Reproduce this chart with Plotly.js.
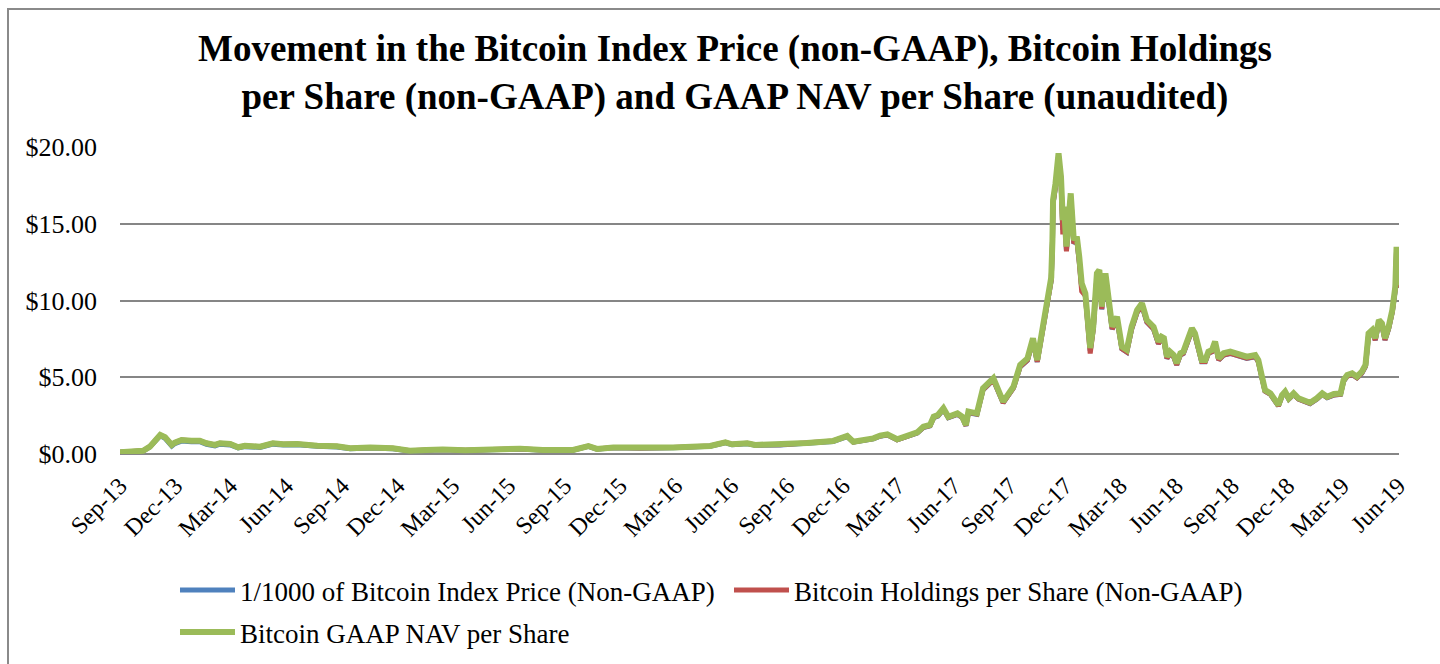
<!DOCTYPE html>
<html>
<head>
<meta charset="utf-8">
<script src="https://cdn.plot.ly/plotly-3.0.1.min.js"></script>
<style>
  html, body { margin: 0; padding: 0; background: #fff; }
  #wrap { position: relative; width: 1440px; height: 664px; overflow: hidden; }
  #chart { position: absolute; left: 0; top: 0; width: 1440px; height: 664px; }
  #frame { position: absolute; left: 7px; top: 8px; width: 1460px; height: 700px;
           border-left: 2px solid #8a8a8a; border-top: 2px solid #8a8a8a; pointer-events: none; }
</style>
</head>
<body>
<div id="wrap"><div id="chart"></div><div id="frame"></div></div>
<script>
// ---- data ----
const dates = [
'2013-09-25','2013-10-15','2013-11-02','2013-11-13','2013-11-22','2013-11-30','2013-12-08','2013-12-19','2013-12-24','2014-01-04',
'2014-01-20','2014-02-03','2014-02-14','2014-02-28','2014-03-08','2014-03-25','2014-04-07','2014-04-18','2014-05-13','2014-06-03',
'2014-06-20','2014-07-13','2014-08-15','2014-09-16','2014-10-08','2014-11-10','2014-12-17','2015-01-14','2015-02-10','2015-03-09',
'2015-04-15','2015-05-31','2015-07-14','2015-08-20','2015-09-13','2015-10-09','2015-11-03','2015-11-17','2015-12-14','2016-01-27',
'2016-03-21','2016-05-21','2016-06-15','2016-06-26','2016-07-21','2016-08-03','2016-09-13','2016-10-27','2016-12-09','2017-01-01',
'2017-01-11','2017-01-27','2017-02-13','2017-02-24','2017-03-08','2017-03-24','2017-04-09','2017-04-26','2017-05-06','2017-05-17',
'2017-05-23','2017-05-30','2017-06-08','2017-06-16','2017-07-01','2017-07-09','2017-07-15','2017-07-19','2017-08-02','2017-08-12',
'2017-08-29','2017-09-14','2017-10-01','2017-10-12','2017-10-24','2017-11-02','2017-11-09','2017-11-19','2017-11-27','2017-12-02',
'2017-12-04','2017-12-05','2017-12-09','2017-12-14','2017-12-18','2017-12-21','2017-12-23','2017-12-27','2017-12-30','2018-01-03',
'2018-01-08','2018-01-13','2018-01-17','2018-01-21','2018-01-27','2018-02-01','2018-02-04','2018-02-09','2018-02-15','2018-02-19',
'2018-02-23','2018-03-01','2018-03-06','2018-03-12','2018-03-20','2018-03-28','2018-04-05','2018-04-13','2018-04-22','2018-04-30',
'2018-05-08','2018-05-19','2018-05-27','2018-06-01','2018-06-05','2018-06-10','2018-06-15','2018-06-21','2018-06-26','2018-07-02',
'2018-07-07','2018-07-13','2018-07-21','2018-07-26','2018-08-01','2018-08-06','2018-08-12','2018-08-17','2018-08-23','2018-08-28',
'2018-09-03','2018-09-11','2018-09-22','2018-10-08','2018-10-19','2018-11-02','2018-11-07','2018-11-13','2018-11-18','2018-11-27',
'2018-12-05','2018-12-10','2018-12-16','2018-12-21','2018-12-27','2019-01-04','2019-01-12','2019-01-20','2019-01-31','2019-02-11',
'2019-02-20','2019-02-28','2019-03-11','2019-03-22','2019-03-27','2019-04-02','2019-04-10','2019-04-18','2019-04-26','2019-05-02',
'2019-05-07','2019-05-13','2019-05-18','2019-05-24','2019-05-29','2019-06-03','2019-06-09','2019-06-15','2019-06-20','2019-06-22',
'2019-06-24','2019-06-26'
];

// 1/1000 of Bitcoin Index Price (Non-GAAP)
const indexPrice = [
0.11,0.14,0.20,0.45,0.80,1.18,1.02,0.52,0.68,0.84,
0.80,0.81,0.63,0.53,0.64,0.59,0.39,0.48,0.43,0.64,
0.58,0.60,0.50,0.46,0.34,0.39,0.34,0.19,0.24,0.28,
0.23,0.26,0.33,0.25,0.24,0.24,0.50,0.31,0.41,0.37,
0.41,0.50,0.73,0.61,0.67,0.57,0.59,0.70,0.82,1.13,
0.77,0.88,0.99,1.16,1.24,0.92,1.13,1.37,1.72,1.83,
2.36,2.47,2.90,2.36,2.58,2.37,1.84,2.69,2.58,4.17,
4.82,3.33,4.30,5.68,6.10,7.40,6.00,8.14,10.28,11.30,
13.70,16.30,17.40,19.40,17.85,14.60,15.90,13.25,14.80,16.75,
13.70,13.95,12.55,10.85,10.30,8.10,6.72,8.12,11.55,11.80,
9.42,11.58,9.85,8.13,8.78,6.85,6.64,8.13,9.22,9.66,
8.58,8.14,7.18,7.50,7.41,6.22,6.55,6.33,5.80,6.44,
6.55,7.30,8.05,7.72,6.86,6.01,6.01,6.55,6.66,7.19,
6.12,6.44,6.55,6.33,6.23,6.34,6.01,4.95,4.09,3.88,
3.35,3.13,3.77,3.99,3.57,3.88,3.57,3.46,3.28,3.57,
3.88,3.67,3.84,3.88,4.74,5.07,5.17,4.96,5.27,5.70,
7.73,7.95,7.41,8.59,8.37,7.42,8.16,9.24,10.72,13.30,
10.82,11.82
];

// Bitcoin Holdings per Share (Non-GAAP)
const holdingsPerShare = [
0.11,0.14,0.21,0.48,0.85,1.24,1.09,0.59,0.74,0.91,
0.86,0.87,0.70,0.59,0.70,0.65,0.44,0.54,0.48,0.70,
0.63,0.65,0.54,0.50,0.37,0.42,0.37,0.21,0.26,0.30,
0.25,0.28,0.35,0.26,0.26,0.26,0.52,0.33,0.43,0.39,
0.43,0.52,0.76,0.63,0.70,0.59,0.61,0.72,0.85,1.17,
0.78,0.89,1.00,1.17,1.25,0.93,1.14,1.38,1.74,1.85,
2.38,2.49,2.92,2.38,2.60,2.38,1.85,2.71,2.60,4.19,
4.84,3.34,4.31,5.70,6.12,7.42,6.01,8.16,10.30,11.32,
13.72,16.32,17.42,19.42,17.88,14.30,15.92,13.20,14.82,16.78,
13.72,13.97,12.50,10.60,10.31,8.05,6.55,8.13,11.57,11.82,
9.44,11.60,9.87,8.14,8.80,6.86,6.65,8.14,9.24,9.68,
8.60,8.15,7.19,7.51,7.42,6.23,6.56,6.34,5.81,6.45,
6.56,7.31,8.06,7.73,6.87,6.02,6.02,6.56,6.67,7.20,
6.13,6.45,6.56,6.34,6.24,6.35,6.02,4.96,4.10,3.89,
3.36,3.14,3.78,4.00,3.58,3.89,3.58,3.47,3.29,3.58,
3.89,3.68,3.85,3.89,4.75,5.08,5.18,4.97,5.28,5.71,
7.74,7.96,7.42,8.60,8.38,7.43,8.17,9.25,10.74,13.32,
10.84,11.84
];

// Bitcoin GAAP NAV per Share
const gaapNav = [
0.11,0.14,0.21,0.48,0.85,1.24,1.09,0.59,0.74,0.91,
0.86,0.87,0.70,0.59,0.70,0.65,0.44,0.54,0.48,0.70,
0.63,0.65,0.54,0.50,0.37,0.42,0.37,0.21,0.26,0.30,
0.25,0.28,0.35,0.26,0.26,0.26,0.52,0.33,0.43,0.39,
0.43,0.52,0.76,0.63,0.70,0.59,0.61,0.72,0.85,1.17,
0.80,0.91,1.02,1.20,1.28,0.96,1.17,1.41,1.78,1.89,
2.43,2.54,2.98,2.43,2.65,2.43,1.89,2.76,2.65,4.28,
4.93,3.41,4.39,5.80,6.23,7.54,6.12,8.29,10.47,11.50,
13.94,16.55,17.63,19.59,18.07,15.24,16.11,13.51,15.03,16.98,
13.94,14.16,12.85,11.12,10.47,8.29,6.90,8.29,11.77,11.99,
9.60,11.77,10.03,8.29,8.94,6.99,6.78,8.29,9.38,9.82,
8.73,8.29,7.32,7.64,7.55,6.34,6.67,6.45,5.91,6.56,
6.67,7.43,8.19,7.86,6.99,6.12,6.12,6.67,6.78,7.32,
6.23,6.56,6.67,6.45,6.34,6.45,6.12,5.04,4.17,3.95,
3.41,3.19,3.84,4.06,3.63,3.95,3.63,3.52,3.34,3.63,
3.95,3.73,3.91,3.95,4.82,5.15,5.26,5.04,5.36,5.80,
7.86,8.08,7.54,8.73,8.51,7.54,8.29,9.38,10.90,13.50,
11.00,12.00
];

const tickDates = [
'2013-09-25','2013-12-25','2014-03-25','2014-06-25','2014-09-25','2014-12-25',
'2015-03-25','2015-06-25','2015-09-25','2015-12-25','2016-03-25','2016-06-25',
'2016-09-25','2016-12-25','2017-03-25','2017-06-25','2017-09-25','2017-12-25',
'2018-03-25','2018-06-25','2018-09-25','2018-12-25','2019-03-25','2019-06-25'
];
const tickLabels = [
'Sep-13','Dec-13','Mar-14','Jun-14','Sep-14','Dec-14',
'Mar-15','Jun-15','Sep-15','Dec-15','Mar-16','Jun-16',
'Sep-16','Dec-16','Mar-17','Jun-17','Sep-17','Dec-17',
'Mar-18','Jun-18','Sep-18','Dec-18','Mar-19','Jun-19'
];
const seriesNames = [
'1/1000 of Bitcoin Index Price (Non-GAAP)',
'Bitcoin Holdings per Share (Non-GAAP)',
'Bitcoin GAAP NAV per Share'
];
const titleText = '<b>Movement in the Bitcoin Index Price (non-GAAP), Bitcoin Holdings</b><br><b>per Share (non-GAAP) and GAAP NAV per Share (unaudited)</b>';

// ---- chart ----
const SERIF = 'Liberation Serif';
const traces = [
  {x: dates, y: indexPrice, name: seriesNames[0], type: 'scatter', mode: 'lines',
   line: {color: '#4F81BD', width: 5}, legend: 'legend'},
  {x: dates, y: holdingsPerShare, name: seriesNames[1], type: 'scatter', mode: 'lines',
   line: {color: '#C0504D', width: 5}, legend: 'legend'},
  {x: dates, y: gaapNav, name: seriesNames[2], type: 'scatter', mode: 'lines',
   line: {color: '#9BBB59', width: 6}, legend: 'legend2'}
];

const layout = {
  width: 1440, height: 664,
  paper_bgcolor: '#ffffff', plot_bgcolor: '#ffffff',
  margin: {l: 120, r: 41, t: 147, b: 210, pad: 0, autoexpand: false},
  font: {family: SERIF, color: '#000000'},
  title: {
    text: titleText,
    font: {family: SERIF, size: 37, color: '#000000'},
    xref: 'container', x: 0.5104, xanchor: 'center',
    yref: 'container', y: 0.908, yanchor: 'top'
  },
  xaxis: {
    type: 'date', automargin: false,
    range: ['2013-09-25', '2019-06-26'],
    tickmode: 'array', tickvals: tickDates, ticktext: tickLabels,
    tickangle: -45, tickfont: {family: SERIF, size: 24, color: '#000000'},
    showgrid: false, showline: false, zeroline: false, ticks: '',
    ticklabelstandoff: 12
  },
  yaxis: {
    range: [0, 20], dtick: 5, tick0: 0, automargin: false,
    tickprefix: '$', tickformat: '.2f',
    tickfont: {family: SERIF, size: 26, color: '#000000'},
    showgrid: true, gridcolor: '#868686', gridwidth: 2,
    zeroline: true, zerolinecolor: '#868686', zerolinewidth: 2,
    showline: false, ticks: '', ticklabelstandoff: 22
  },
  showlegend: true,
  legend: {
    orientation: 'h', x: 0.043, xanchor: 'left',
    yref: 'container', y: 0.1476, yanchor: 'top',
    font: {family: SERIF, size: 27, color: '#000000'},
    entrywidth: 484, entrywidthmode: 'pixels', itemwidth: 55,
    bgcolor: 'rgba(0,0,0,0)', borderwidth: 0, traceorder: 'normal'
  },
  legend2: {
    orientation: 'h', x: 0.043, xanchor: 'left',
    yref: 'container', y: 0.0843, yanchor: 'top',
    font: {family: SERIF, size: 27, color: '#000000'},
    itemwidth: 55,
    bgcolor: 'rgba(0,0,0,0)', borderwidth: 0
  }
};

Plotly.newPlot('chart', traces, layout, {displayModeBar: false, staticPlot: true});
</script>
</body>
</html>
